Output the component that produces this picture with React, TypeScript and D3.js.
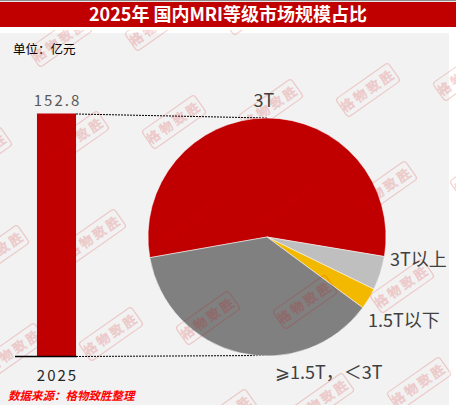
import React from "react";
import * as d3 from "d3";

// bar: total market size
const years = ["2025"];
const marketSize = [152.8]; // 亿元

// pie: share by field strength (%)
const levels = ["3T", "3T以上", "1.5T以下", "⩾1.5T，＜3T"];
const shares = [55.4, 4.6, 2.9, 37.1];
const sliceColors = ["#C00000", "#BFBFBF", "#F3B800", "#808080"];

const title = "2025年 国内MRI等级市场规模占比";
const unitText = "单位：亿元";
const sourceText = "数据来源：格物致胜整理";

const W = 456;
const H = 405;
const CJK = "'Noto Sans CJK SC', 'Noto Sans', sans-serif";

// label offsets from pie centre (layout, not data)
const labelPos = [
  { dx: -3, dy: -130, anchor: "middle" },
  { dx: 123, dy: 29, anchor: "start" },
  { dx: 101, dy: 90, anchor: "start" },
  { dx: 8, dy: 142, anchor: "start" },
];

const Stamp = ({ x, y }) => (
  <g transform={`translate(${x},${y}) rotate(-35)`} opacity={0.17}>
    <rect
      x={-32}
      y={-11}
      width={64}
      height={22}
      rx={3}
      fill="none"
      stroke="#D00000"
      strokeWidth={1.2}
    />
    <text
      textAnchor="middle"
      y={5}
      fontSize={13}
      letterSpacing={3}
      fill="none"
      stroke="#D00000"
      strokeWidth={0.8}
      fontFamily={CJK}
    >
      格物致胜
    </text>
  </g>
);

const App = () => {
  // bar chart scales
  const baseY = 356;
  const x = d3.scaleBand().domain(years).range([15, 98]).padding(0.36);
  const y = d3
    .scaleLinear()
    .domain([0, d3.max(marketSize)])
    .range([baseY, 113.5]);

  // pie
  const cx = 267;
  const cy = 237;
  const r = 119;
  const pie = d3
    .pie<number>()
    .sort(null)
    .startAngle((-100 * Math.PI) / 180)
    .endAngle((260 * Math.PI) / 180);
  const arcs = pie(shares);
  const arcGen = d3.arc<d3.PieArcDatum<number>>().innerRadius(0).outerRadius(r);

  const barRight = x(years[0]) + x.bandwidth();

  // watermark tiling
  const stamps = [];
  for (let row = -1; row < 5; row++) {
    for (let col = -1; col < 7; col++) {
      stamps.push({
        x: -20 + 97 * col + 17 * (row - 1),
        y: 138 + 98 * (row - 1) - 16 * (col - 1),
      });
    }
  }

  return (
    <svg
      width={W}
      height={H}
      style={{ position: "absolute", left: 0, top: 0, background: "#fff" }}
    >
      {/* panel */}
      <rect x={0} y={33} width={449} height={H - 33} fill="#F2F2F2" />

      <text x={13} y={54} fontSize={12.5} fill="#000" fontFamily={CJK}>
        {unitText}
      </text>

      {/* bar */}
      {marketSize.map((v, i) => (
        <g key={years[i]}>
          <rect
            x={x(years[i])}
            y={y(v)}
            width={x.bandwidth()}
            height={baseY - y(v)}
            fill="#C00000"
          />
          <text
            x={x(years[i]) + x.bandwidth() / 2 + 1}
            y={y(v) - 8}
            textAnchor="middle"
            fontSize={15}
            letterSpacing={2}
            fill="#595959"
            fontFamily={CJK}
          >
            {v.toFixed(1)}
          </text>
          <text
            x={x(years[i]) + x.bandwidth() / 2 + 1}
            y={baseY + 25}
            textAnchor="middle"
            fontSize={15}
            letterSpacing={2}
            fill="#262626"
            fontFamily={CJK}
          >
            {years[i]}
          </text>
        </g>
      ))}
      <line
        x1={15}
        x2={barRight + 1}
        y1={baseY + 0.5}
        y2={baseY + 0.5}
        stroke="#000"
        strokeWidth={1.5}
      />

      {/* connector lines */}
      <line
        x1={barRight}
        y1={y(marketSize[0]) + 0.5}
        x2={cx}
        y2={cy - r}
        stroke="#000"
        strokeWidth={1}
        strokeDasharray="2,1"
      />
      <line
        x1={barRight}
        y1={baseY + 0.5}
        x2={cx}
        y2={cy + r - 0.5}
        stroke="#000"
        strokeWidth={1}
        strokeDasharray="2,1"
      />

      {/* pie */}
      <g transform={`translate(${cx},${cy})`}>
        {arcs.map((a, i) => (
          <path
            key={levels[i]}
            d={arcGen(a)}
            fill={sliceColors[i]}
            stroke="#fff"
            strokeWidth={0.5}
          />
        ))}
        {levels.map((l, i) => (
          <text
            key={l}
            x={labelPos[i].dx}
            y={labelPos[i].dy}
            textAnchor={labelPos[i].anchor}
            fontSize={18}
            fill="#404040"
            fontFamily={CJK}
          >
            {l}
          </text>
        ))}
      </g>

      <text
        x={8}
        y={400}
        fontSize={11.5}
        fontWeight="bold"
        fontStyle="italic"
        fill="#FF0000"
        fontFamily={CJK}
      >
        {sourceText}
      </text>

      {/* watermark */}
      {stamps.map((s, i) => (
        <Stamp key={i} x={s.x} y={s.y} />
      ))}

      {/* title banner */}
      <rect x={0} y={0} width={W} height={30} fill="#fff" />
      <rect x={0} y={0} width={W} height={1.2} fill="#8c8c8c" />
      <rect x={0} y={2} width={W} height={25} fill="#C00000" />
      <text
        x={W / 2}
        y={21}
        textAnchor="middle"
        fontSize={18}
        fontWeight="bold"
        fill="#fff"
        fontFamily={CJK}
      >
        {title}
      </text>
    </svg>
  );
};

export default App;
